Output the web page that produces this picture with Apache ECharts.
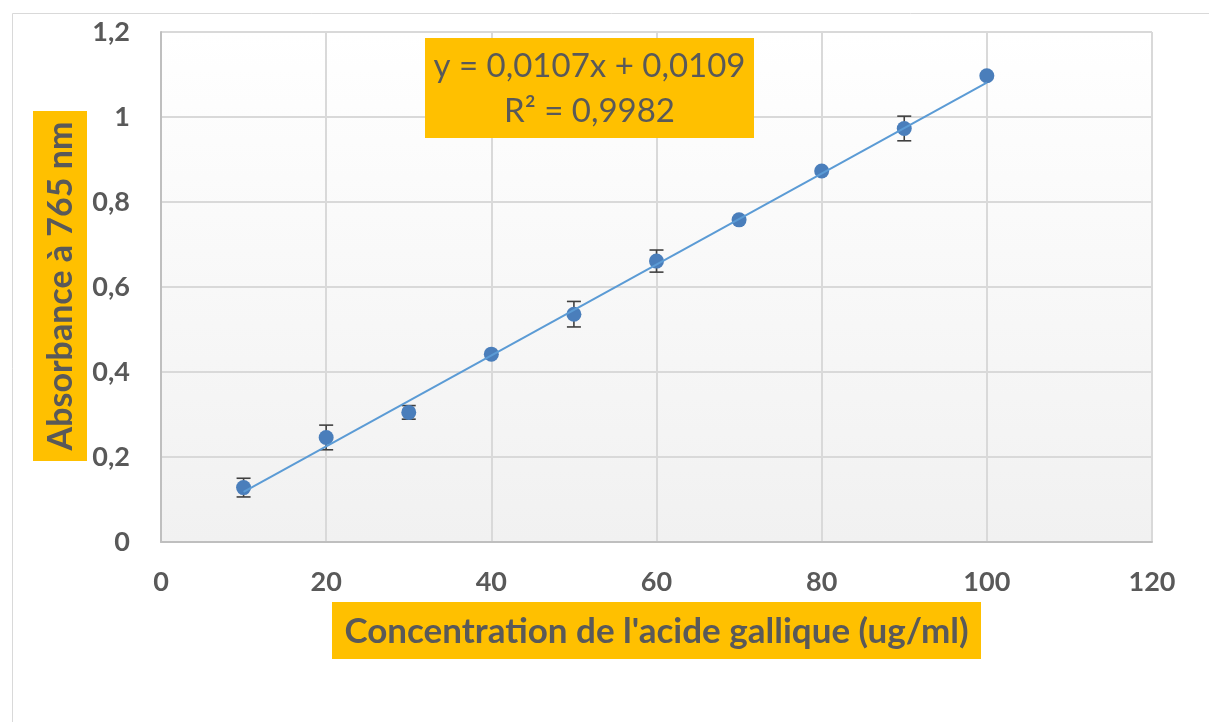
<!DOCTYPE html>
<html>
<head>
<meta charset="utf-8">
<script src="https://cdn.jsdelivr.net/npm/echarts@6/dist/echarts.min.js"></script>
<style>html,body{margin:0;padding:0;background:#fff}#c{width:1209px;height:722px}</style>
</head>
<body>
<div id="c"></div>
<script>
// Data
var concentrations = [10, 20, 30, 40, 50, 60, 70, 80, 90, 100];
var absorbance = [0.128, 0.246, 0.305, 0.442, 0.536, 0.661, 0.758, 0.873, 0.973, 1.097];
var errors = [0.022, 0.029, 0.016, 0, 0.03, 0.026, 0, 0, 0.029, 0];
var trendSlope = 0.0107;
var trendIntercept = 0.0109;
var trendRange = [10, 100];
var equationText = 'y = 0,0107x + 0,0109';
var r2Text = 'R² = 0,9982';
var xTitle = "Concentration de l'acide gallique (ug/ml)";
var yTitle = 'Absorbance à 765 nm';

var points = concentrations.map(function (x, i) { return [x, absorbance[i]]; });
var errData = concentrations.map(function (x, i) { return [x, absorbance[i] - errors[i], absorbance[i] + errors[i]]; });
var trendData = trendRange.map(function (x) { return [x, trendSlope * x + trendIntercept]; });

var FONT = 'Lato, "Open Sans", sans-serif';
var TXT = '#595959';
var ORANGE = '#FFC000';

var chart = echarts.init(document.getElementById('c'));
chart.setOption({
  backgroundColor: '#fff',
  animation: false,
  grid: {
    left: 161, top: 32, right: 57, bottom: 180,
    show: true,
    borderWidth: 0,
    backgroundColor: new echarts.graphic.LinearGradient(0, 0, 0, 1, [
      { offset: 0, color: '#ffffff' },
      { offset: 1, color: '#f1f1f1' }
    ])
  },
  xAxis: {
    type: 'value', min: 0, max: 120, interval: 20,
    axisLine: { show: true, lineStyle: { color: '#bfbfbf', width: 2 } },
    axisTick: { show: false },
    splitLine: { show: true, lineStyle: { color: '#d9d9d9', width: 2 } },
    axisLabel: { color: TXT, fontFamily: FONT, fontWeight: 'bold', fontSize: 27, margin: 27 }
  },
  yAxis: {
    type: 'value', min: 0, max: 1.2, interval: 0.2,
    axisLine: { show: true, lineStyle: { color: '#bfbfbf', width: 2 } },
    axisTick: { show: false },
    splitLine: { show: true, lineStyle: { color: '#d9d9d9', width: 2 } },
    axisLabel: {
      color: TXT, fontFamily: FONT, fontWeight: 'bold', fontSize: 27, margin: 31,
      formatter: function (v) { return String(Math.round(v * 10) / 10).replace('.', ','); }
    }
  },
  graphic: [
    { type: 'rect', left: 10, top: 11, shape: { width: 1400, height: 900 }, style: { fill: 'none', stroke: '#d9d9d9', lineWidth: 1 }, silent: true, z: -1 },
    { type: 'rect', left: 425, top: 38, shape: { width: 329, height: 100 }, style: { fill: ORANGE }, z: 10 },
    { type: 'text', x: 589.5, y: 66, style: { text: equationText, fill: TXT, font: '33px ' + FONT, textAlign: 'center', textVerticalAlign: 'middle' }, z: 11 },
    { type: 'text', x: 589.5, y: 111, style: { text: r2Text, fill: TXT, font: '33px ' + FONT, textAlign: 'center', textVerticalAlign: 'middle' }, z: 11 },
    { type: 'rect', left: 332, top: 602, shape: { width: 649, height: 57 }, style: { fill: ORANGE }, z: 10 },
    { type: 'text', x: 656.5, y: 632, style: { text: xTitle, fill: TXT, font: 'bold 35px ' + FONT, textAlign: 'center', textVerticalAlign: 'middle' }, z: 11 },
    { type: 'rect', left: 33, top: 111, shape: { width: 54, height: 350 }, style: { fill: ORANGE }, z: 10 },
    { type: 'text', x: 61, y: 286, rotation: Math.PI / 2, style: { text: yTitle, fill: TXT, font: 'bold 34px ' + FONT, textAlign: 'center', textVerticalAlign: 'middle' }, z: 11 }
  ],
  series: [
    {
      type: 'custom',
      z: 2,
      data: errData,
      renderItem: function (params, api) {
        var x = api.value(0);
        var lo = api.coord([x, api.value(1)]);
        var hi = api.coord([x, api.value(2)]);
        if (Math.abs(lo[1] - hi[1]) < 1) return null;
        var w = 7;
        var st = { stroke: '#404040', lineWidth: 1.6 };
        return {
          type: 'group',
          children: [
            { type: 'line', shape: { x1: hi[0], y1: hi[1], x2: lo[0], y2: lo[1] }, style: st },
            { type: 'line', shape: { x1: hi[0] - w, y1: hi[1], x2: hi[0] + w, y2: hi[1] }, style: st },
            { type: 'line', shape: { x1: lo[0] - w, y1: lo[1], x2: lo[0] + w, y2: lo[1] }, style: st }
          ]
        };
      }
    },
    {
      type: 'scatter',
      z: 3,
      data: points,
      symbol: 'circle',
      symbolSize: 15,
      itemStyle: { color: '#4a7ebb', opacity: 1 }
    },
    {
      type: 'line',
      z: 4,
      data: trendData,
      showSymbol: false,
      symbol: 'none',
      lineStyle: { color: '#5b9bd5', width: 2 }
    }
  ]
});
</script>
</body>
</html>
